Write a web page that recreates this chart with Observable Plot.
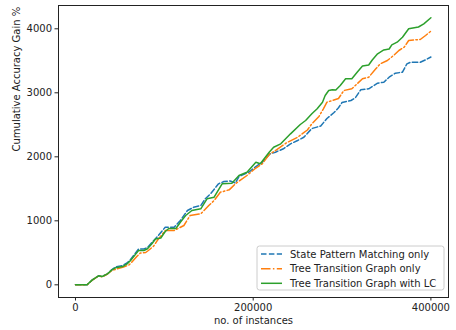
<!DOCTYPE html>
<html><head><meta charset="utf-8">
<script src="https://cdn.jsdelivr.net/npm/d3@7"></script>
<script src="https://cdn.jsdelivr.net/npm/@observablehq/plot@0.6"></script>
<style>
body{margin:0;background:#fff}
#chart{width:456px;height:330px}
</style>
</head><body><div id="chart"></div>
<script>
const seriesNames = ["State Pattern Matching only", "Tree Transition Graph only", "Tree Transition Graph with LC"];
const xTicks = [0, 200000, 400000];
const yTicks = [0, 1000, 2000, 3000, 4000];
const xLabel = "no. of instances";
const yLabel = "Cumulative Accuracy Gain %";

const spmX = [0,13000,19000,26000,30000,36000,41000,45000,53000,58000,62000,68000,71000,77000,81000,86000,90000,101000,111000,118000,126000,133000,141000,146000,152000,161000,167000,174000,180000,184000,195000,203000,210000,219000,225000,234000,242000,250000,257000,266000,276000,283000,291000,296000,300000,310000,315000,321000,330000,340000,347000,353000,360000,368000,373000,377000,388000,394000,400000];
const spmY = [0,0,78,141,130,172,239,278,302,341,395,505,559,559,583,661,719,900,900,1005,1161,1213,1239,1344,1422,1578,1614,1622,1591,1692,1759,1848,1911,2047,2072,2125,2203,2255,2306,2442,2481,2598,2692,2766,2848,2880,2922,3047,3063,3150,3166,3244,3306,3322,3453,3478,3478,3516,3559];

const ttgX = [0,13000,19000,26000,30000,36000,41000,48000,54000,60000,63000,69000,73000,79000,82000,88000,92000,101000,111000,122000,129000,141000,150000,156000,163000,173000,180000,186000,193000,203000,210000,218000,225000,238000,250000,261000,266000,274000,279000,283000,289000,296000,302000,311000,317000,323000,330000,338000,343000,351000,358000,364000,370000,375000,383000,388000,394000,400000];
const ttgY = [0,0,75,138,125,169,223,255,278,309,348,442,497,505,536,606,692,848,848,927,1083,1109,1239,1317,1447,1484,1578,1641,1708,1825,1888,2036,2098,2223,2306,2419,2516,2630,2750,2853,2880,2911,3036,3063,3141,3219,3244,3375,3453,3505,3583,3661,3713,3817,3828,3833,3895,3963];

const lcX = [0,13000,19000,26000,30000,36000,41000,45000,53000,58000,62000,68000,71000,77000,81000,86000,90000,96000,101000,105000,113000,118000,124000,131000,141000,148000,156000,165000,176000,184000,193000,203000,208000,218000,223000,231000,242000,253000,259000,266000,272000,278000,281000,285000,289000,293000,298000,304000,311000,317000,323000,330000,334000,340000,347000,353000,356000,362000,368000,375000,386000,392000,400000];
const lcY = [0,0,78,141,130,172,234,266,286,328,380,484,536,536,563,641,716,731,833,880,880,978,1083,1161,1188,1344,1369,1578,1588,1708,1759,1916,1891,2072,2150,2203,2359,2505,2567,2672,2750,2853,2958,3036,3047,3044,3114,3219,3219,3322,3419,3434,3513,3609,3669,3684,3750,3791,3869,4000,4028,4078,4172];

const colors = ["#1f77b4", "#ff7f0e", "#2ca02c"];
const dashes = ["5.5,2.4", "9.5,2.4,1.5,2.4", null];

const toRows = (xs, ys, name) => xs.map((x, i) => ({series: name, x, y: ys[i]}));
const sets = [toRows(spmX, spmY, seriesNames[0]), toRows(ttgX, ttgY, seriesNames[1]), toRows(lcX, lcY, seriesNames[2])];

const chart = Plot.plot({
  width: 456, height: 330,
  marginLeft: 58, marginRight: 8, marginTop: 5, marginBottom: 33,
  x: {domain: [-19130, 419810]},
  y: {domain: [-198, 4364]},
  style: {fontFamily: "DejaVu Sans", fontSize: "10px", color: "#222", background: "white"},
  marks: [
    Plot.axisX({ticks: xTicks, tickFormat: d => String(d), tickSize: 3.5, tickPadding: 3, label: null}),
    Plot.axisY({ticks: yTicks, tickFormat: d => String(d), tickSize: 3.5, tickPadding: 3, label: null}),
    ...sets.map((rows, i) => Plot.line(rows, {x: "x", y: "y", stroke: colors[i], strokeWidth: 1.5, strokeDasharray: dashes[i] ?? undefined, strokeLinejoin: "round"})),
    Plot.frame({stroke: "#222", strokeWidth: 1}),
    Plot.text([xLabel], {text: d => d, frameAnchor: "bottom", dy: 26}),
    Plot.text([yLabel], {text: d => d, frameAnchor: "left", dx: -42, rotate: -90})
  ]
});
document.getElementById("chart").appendChild(chart);

// legend
const svg = d3.select(chart);
const lg = svg.append("g").attr("font-family", "DejaVu Sans").attr("font-size", "10px").attr("text-anchor", "start");
lg.append("rect").attr("x", 257).attr("y", 246).attr("width", 187).attr("height", 44)
  .attr("rx", 2.5).attr("fill", "white").attr("fill-opacity", 0.8).attr("stroke", "#cccccc");
const rowY = [254, 268.7, 283.3];
seriesNames.forEach((name, i) => {
  const l = lg.append("line").attr("x1", 261).attr("x2", 282).attr("y1", rowY[i]).attr("y2", rowY[i])
    .attr("stroke", colors[i]).attr("stroke-width", 1.5);
  if (dashes[i]) l.attr("stroke-dasharray", dashes[i]);
  lg.append("text").attr("x", 290).attr("y", rowY[i]).attr("dy", "0.35em").attr("text-anchor", "start").attr("fill", "#222").text(name);
});
</script>
</body></html>
